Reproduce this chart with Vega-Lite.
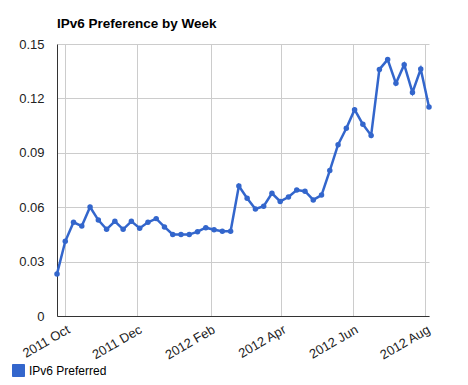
{
  "$schema": "https://vega.github.io/schema/vega-lite/v6.json",
  "autosize": "none",
  "width": 372,
  "height": 272,
  "padding": {"left": 57, "top": 44, "right": 39, "bottom": 69},
  "background": "white",
  "title": {"text": "IPv6 Preference by Week", "anchor": "start", "frame": "group", "font": "Liberation Sans", "fontSize": 13.5, "fontWeight": "bold", "color": "#000", "offset": 8},
  "config": {"view": {"stroke": null}, "font": "Liberation Sans"},
  "data": {"values": [
    {"date": "2011-09-24", "value": 0.0232},
    {"date": "2011-10-01", "value": 0.0412},
    {"date": "2011-10-08", "value": 0.0517},
    {"date": "2011-10-15", "value": 0.0496},
    {"date": "2011-10-22", "value": 0.0601},
    {"date": "2011-10-29", "value": 0.0529},
    {"date": "2011-11-05", "value": 0.0478},
    {"date": "2011-11-12", "value": 0.0522},
    {"date": "2011-11-19", "value": 0.0478},
    {"date": "2011-11-26", "value": 0.0522},
    {"date": "2011-12-03", "value": 0.0484},
    {"date": "2011-12-10", "value": 0.0517},
    {"date": "2011-12-17", "value": 0.0537},
    {"date": "2011-12-24", "value": 0.0491},
    {"date": "2011-12-31", "value": 0.0450},
    {"date": "2012-01-07", "value": 0.0449},
    {"date": "2012-01-14", "value": 0.0449},
    {"date": "2012-01-21", "value": 0.0465},
    {"date": "2012-01-28", "value": 0.0487},
    {"date": "2012-02-04", "value": 0.0476},
    {"date": "2012-02-11", "value": 0.0467},
    {"date": "2012-02-18", "value": 0.0467},
    {"date": "2012-02-25", "value": 0.0717},
    {"date": "2012-03-03", "value": 0.0649},
    {"date": "2012-03-10", "value": 0.0590},
    {"date": "2012-03-17", "value": 0.0605},
    {"date": "2012-03-24", "value": 0.0677},
    {"date": "2012-03-31", "value": 0.0632},
    {"date": "2012-04-07", "value": 0.0656},
    {"date": "2012-04-14", "value": 0.0695},
    {"date": "2012-04-21", "value": 0.0688},
    {"date": "2012-04-28", "value": 0.0640},
    {"date": "2012-05-05", "value": 0.0667},
    {"date": "2012-05-12", "value": 0.0802},
    {"date": "2012-05-19", "value": 0.0945},
    {"date": "2012-05-26", "value": 0.1035},
    {"date": "2012-06-02", "value": 0.1138},
    {"date": "2012-06-09", "value": 0.1057},
    {"date": "2012-06-16", "value": 0.0996},
    {"date": "2012-06-23", "value": 0.1360},
    {"date": "2012-06-30", "value": 0.1414},
    {"date": "2012-07-07", "value": 0.1283},
    {"date": "2012-07-14", "value": 0.1386},
    {"date": "2012-07-21", "value": 0.1233},
    {"date": "2012-07-28", "value": 0.1362},
    {"date": "2012-08-04", "value": 0.1153}
  ]},
  "mark": {"type": "line", "strokeWidth": 2.5, "point": {"filled": true, "size": 30}},
  "encoding": {
    "x": {
      "field": "date", "type": "temporal",
      "scale": {"type": "utc", "nice": false},
      "axis": {
        "title": null,
        "labelExpr": "utcFormat(datum.value, '%Y %b')",
        "values": [
          {"year": 2011, "month": 10, "date": 1, "utc": true},
          {"year": 2011, "month": 12, "date": 1, "utc": true},
          {"year": 2012, "month": 2, "date": 1, "utc": true},
          {"year": 2012, "month": 4, "date": 1, "utc": true},
          {"year": 2012, "month": 6, "date": 1, "utc": true},
          {"year": 2012, "month": 8, "date": 1, "utc": true}
        ],
        "labelAngle": -30,
        "labelFontSize": 13,
        "labelColor": "#222",
        "labelFont": "Liberation Sans",
        "labelPadding": 7,
        "labelDx": 3,
        "ticks": false,
        "grid": true,
        "gridColor": "#cccccc",
        "domainColor": "#333333",
        "labelOverlap": false,
        "labelBound": false,
        "labelFlush": false
      }
    },
    "y": {
      "field": "value", "type": "quantitative",
      "scale": {"domain": [0, 0.15], "nice": false},
      "axis": {
        "title": null,
        "values": [0, 0.03, 0.06, 0.09, 0.12, 0.15],
        "format": ".2~f",
        "labelFontSize": 13,
        "labelColor": "#222",
        "labelFont": "Liberation Sans",
        "labelPadding": 13,
        "ticks": false,
        "grid": true,
        "gridColor": "#cccccc",
        "domainColor": "#333333",
        "labelFlush": false,
        "labelOverlap": false
      }
    },
    "color": {
      "datum": "IPv6 Preferred",
      "type": "nominal",
      "scale": {"range": ["#3366cc"]},
      "legend": {
        "title": null,
        "orient": "none",
        "legendX": -45,
        "legendY": 320,
        "symbolType": "square",
        "symbolSize": 144,
        "symbolFillColor": "#3366cc",
        "symbolStrokeColor": "#6a8fdc",
        "symbolStrokeWidth": 1,
        "labelFontSize": 12,
        "labelColor": "#000",
        "labelFont": "Liberation Sans",
        "labelOffset": 4
      }
    }
  }
}
